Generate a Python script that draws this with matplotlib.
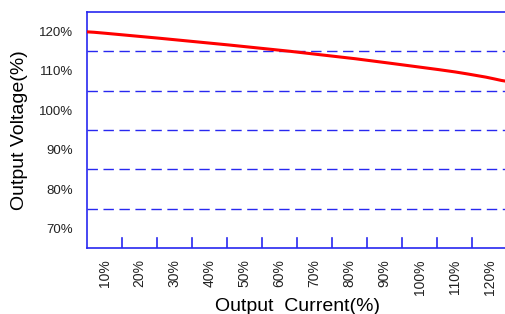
import numpy as np
import matplotlib
matplotlib.use('Agg')
import matplotlib.pyplot as plt

plt.rcParams['font.family'] = ['Liberation Sans', 'DejaVu Sans']

# 数据：输出电流(%) 与 输出电压(%)
current = [5, 20, 40, 60, 80, 100, 110, 120, 125]
voltage = [120.0, 118.8, 117.1, 115.3, 113.3, 111.0, 109.8, 108.3, 107.2]

x_labels = ['10%', '20%', '30%', '40%', '50%', '60%', '70%', '80%', '90%', '100%', '110%', '120%']
y_ticks = [70, 80, 90, 100, 110, 120]
dash_levels = [75, 85, 95, 105, 115]

blue = '#2828f0'

fig = plt.figure(figsize=(5.06, 3.14), dpi=100)
ax = fig.add_axes([0.172, 0.21, 0.83, 0.752])

# 平滑曲线
xs = np.linspace(current[0], current[-1], 300)
ys = np.interp(xs, current, voltage)
kern = np.ones(15) / 15
ys_s = np.convolve(np.pad(ys, 7, mode='edge'), kern, mode='valid')
ax.plot(xs, ys_s, color='#ff0000', lw=2.2, solid_capstyle='butt', zorder=3)

for lv in dash_levels:
    ax.axhline(lv, color=blue, lw=1.0, dashes=(7.5, 4), zorder=2)

ax.set_xlim(5, 125)
ax.set_ylim(65, 125)

# 类别中心放标签，边界放刻度
centers = [10 * (i + 1) for i in range(len(x_labels))]
ax.set_xticks(centers)
ax.set_xticklabels(x_labels, rotation=90, fontsize=10, color='#222222')
ax.tick_params(axis='x', length=0, pad=8)
for b in range(15, 125, 10):
    ax.plot([b, b], [65, 67.6], color=blue, lw=1.2, zorder=2)

ax.set_yticks(y_ticks)
ax.set_yticklabels([f'{v}%' for v in y_ticks], fontsize=9.5, color='#222222')
ax.tick_params(axis='y', length=0, pad=10)

for s in ['left', 'bottom', 'top']:
    ax.spines[s].set_color(blue)
    ax.spines[s].set_linewidth(1.2)
ax.spines['right'].set_visible(False)

ax.set_xlabel('Output  Current(%)', fontsize=14, labelpad=2)
ax.set_ylabel('Output Voltage(%)', fontsize=14, labelpad=8)

fig.savefig('out.png', dpi=100)
